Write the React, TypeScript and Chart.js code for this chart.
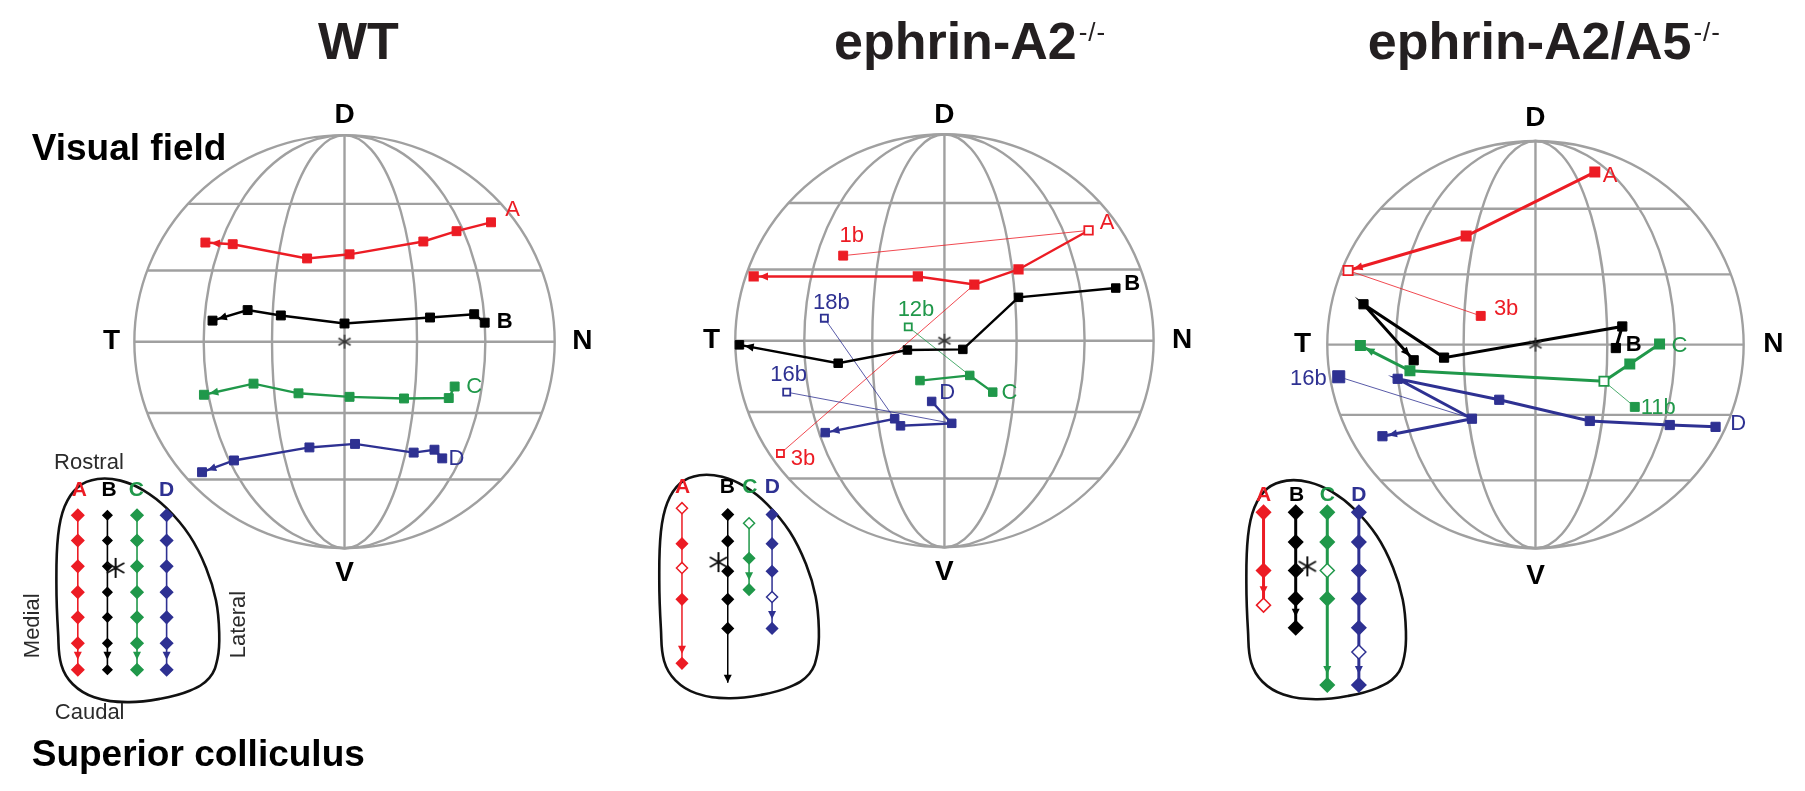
import React, { useEffect, useRef } from "react";
import { Chart, registerables } from "chart.js";

Chart.register(...registerables);

const W = 1805;
const H = 791;
const FONT = "'Liberation Sans', Arial, Helvetica, sans-serif";

const RED = "#ec1c24";
const BLACK = "#000000";
const GREEN = "#20984a";
const BLUE = "#2e3192";
const GRID = "#a0a0a0";
const DARK = "#231f20";
const COLOR: Record<string, string> = { A: RED, B: BLACK, C: GREEN, D: BLUE };

// ---------------- panel layout ----------------
const TITLES = ["WT", "ephrin-A2", "ephrin-A2/A5"];
const TITLE_SUP = ["", "-/-", "-/-"];
const TITLE_X = [351, 970, 1552];
const TITLE_BASELINE = 48;
const GLOBE_X = [337, 945, 1544];
const GLOBE_Y = [340, 339, 343];
const GLOBE_RX = [213, 212, 211];
const GLOBE_RY = [213, 213, 210];
const MERIDIANS = [0.345, 0.67];
const PARALLELS = [-0.667, -0.345, 0, 0.345, 0.667];
const POLE_TEXT = ["D", "V", "T", "N"];
const POLE_DX = [0, 0, -236, 241];
const POLE_DY = [-233, 239, 0, 0];

// ---------------- visual field traces ----------------
// [x, y] in globe radii (x: temporal - / nasal +, y: ventral - / dorsal +)
const WT_A = [[0.697, 0.578], [0.533, 0.535], [0.375, 0.485], [0.024, 0.423], [-0.178, 0.403], [-0.532, 0.472], [-0.662, 0.48]];
const WT_B = [[0.667, 0.092], [0.617, 0.133], [0.407, 0.117], [0, 0.088], [-0.303, 0.127], [-0.461, 0.153], [-0.628, 0.102]];
const WT_C = [[0.524, -0.217], [0.496, -0.273], [0.283, -0.275], [0.024, -0.267], [-0.219, -0.25], [-0.433, -0.203], [-0.669, -0.257]];
const WT_D = [[0.465, -0.565], [0.428, -0.523], [0.329, -0.537], [0.05, -0.495], [-0.167, -0.512], [-0.526, -0.575], [-0.678, -0.632]];

const A2_A = [[0.689, 0.534], [0.354, 0.345], [0.143, 0.272], [-0.127, 0.311], [-0.912, 0.311]];
const A2_B = [[0.819, 0.255], [0.354, 0.21], [0.088, -0.042], [-0.177, -0.045], [-0.508, -0.109], [-0.98, -0.02]];
const A2_C = [[0.231, -0.249], [0.121, -0.168], [-0.117, -0.193]];
const A2_D = [[-0.061, -0.294], [0.035, -0.4], [-0.21, -0.412], [-0.238, -0.378], [-0.57, -0.445]];

const A25_A = [[0.285, 0.847], [-0.333, 0.533], [-0.9, 0.364]];
const A25_B = [[0.386, -0.017], [0.417, 0.089], [-0.439, -0.064], [-0.826, 0.198], [-0.585, -0.077]];
const A25_C = [[0.596, 0.003], [0.453, -0.095], [0.329, -0.18], [-0.603, -0.129], [-0.841, -0.005]];
const A25_D = [[0.865, -0.404], [0.645, -0.395], [0.261, -0.375], [-0.174, -0.271], [-0.662, -0.168], [-0.305, -0.364], [-0.735, -0.45]];

// ectopic ("b") projections
const A2_1B = [-0.484, 0.412];
const A2_3B = [-0.784, -0.546];
const A2_12B = [-0.173, 0.067];
const A2_18B = [-0.574, 0.109];
const A2_16B = [-0.754, -0.249];
const A25_3B = [-0.263, 0.141];
const A25_11B = [0.477, -0.306];
const A25_16B = [-0.945, -0.158];

type VFSeries = { panel: number; key: string; pts: number[][]; open?: number[]; arrow?: boolean };
const VF_SERIES: VFSeries[] = [
  { panel: 0, key: "A", pts: WT_A, arrow: true },
  { panel: 0, key: "B", pts: WT_B, arrow: true },
  { panel: 0, key: "C", pts: WT_C, arrow: true },
  { panel: 0, key: "D", pts: WT_D, arrow: true },
  { panel: 1, key: "A", pts: A2_A, open: [0], arrow: true },
  { panel: 1, key: "B", pts: A2_B, arrow: true },
  { panel: 1, key: "C", pts: A2_C },
  { panel: 1, key: "D", pts: A2_D, arrow: true },
  { panel: 2, key: "A", pts: A25_A, open: [2], arrow: true },
  { panel: 2, key: "B", pts: A25_B, arrow: true },
  { panel: 2, key: "C", pts: A25_C, open: [2], arrow: true },
  { panel: 2, key: "D", pts: A25_D, arrow: true },
];

type Ectopic = { panel: number; key: string; from: number[]; to: number[]; open: boolean; big?: boolean };
const ECTOPIC: Ectopic[] = [
  { panel: 1, key: "A", from: A2_A[0], to: A2_1B, open: false },
  { panel: 1, key: "A", from: A2_A[2], to: A2_3B, open: true },
  { panel: 1, key: "C", from: A2_C[1], to: A2_12B, open: true },
  { panel: 1, key: "D", from: A2_D[3], to: A2_18B, open: true },
  { panel: 1, key: "D", from: A2_D[1], to: A2_16B, open: true },
  { panel: 2, key: "A", from: A25_A[2], to: A25_3B, open: false },
  { panel: 2, key: "C", from: A25_C[2], to: A25_11B, open: false },
  { panel: 2, key: "D", from: A25_D[5], to: A25_16B, open: false, big: true },
];

const VF_LABELS = [
  { panel: 0, key: "A", text: "A", at: [0.8, 0.64] },
  { panel: 0, key: "B", text: "B", at: [0.762, 0.097] },
  { panel: 0, key: "C", text: "C", at: [0.617, -0.22] },
  { panel: 0, key: "D", text: "D", at: [0.533, -0.567] },
  { panel: 1, key: "A", text: "A", at: [0.777, 0.571] },
  { panel: 1, key: "B", text: "B", at: [0.898, 0.277] },
  { panel: 1, key: "C", text: "C", at: [0.311, -0.252] },
  { panel: 1, key: "D", text: "D", at: [0.013, -0.252] },
  { panel: 1, key: "A", text: "1b", at: [-0.443, 0.508] },
  { panel: 1, key: "A", text: "3b", at: [-0.676, -0.571] },
  { panel: 1, key: "C", text: "12b", at: [-0.136, 0.148] },
  { panel: 1, key: "D", text: "18b", at: [-0.54, 0.185] },
  { panel: 1, key: "D", text: "16b", at: [-0.745, -0.168] },
  { panel: 2, key: "A", text: "A", at: [0.358, 0.828] },
  { panel: 2, key: "B", text: "B", at: [0.472, -0.003] },
  { panel: 2, key: "C", text: "C", at: [0.691, -0.009] },
  { panel: 2, key: "D", text: "D", at: [0.974, -0.392] },
  { panel: 2, key: "A", text: "3b", at: [-0.141, 0.175] },
  { panel: 2, key: "C", text: "11b", at: [0.59, -0.309] },
  { panel: 2, key: "D", text: "16b", at: [-1.091, -0.168] },
];

const VF_LW = [2.4, 2.4, 3];
const VF_PR = [6.3, 6, 6.5];

// ---------------- superior colliculus ----------------
// outline template (px from the outline's bounding-box top-left)
const BLOB = [
  [0, 108.3], [1.7, 158.3], [5, 191.6], [16.7, 211.6], [38.3, 225], [71.7, 230], [105, 226.6], [135, 218.3],
  [155, 205], [163.3, 185], [165, 158.3], [161.7, 125], [151.7, 91.6], [135, 58.3], [111.7, 30], [88.3, 11.6],
  [65, 1.6], [41.7, 0], [21.7, 8.3], [8.3, 28.3], [1.7, 58.3],
];
const SC_X0 = [45, 656, 1251];
const SC_Y0 = [481.7, 477.7, 483.3];
const SC_SX = [1, 0.98, 0.98];
const SC_SY = [1, 1, 0.98];
const SC_COL_X = [[21.7, 51.7, 81.7, 111.7], [23, 69.4, 91, 114.3], [17.4, 50, 82, 114]];
const SC_LETTER_X = [[23.3, 53.3, 81, 111.7], [23.6, 69, 91.8, 114.7], [17.4, 51, 82, 114]];
const SC_LETTER_Y = [11.6, 12.3, 15];
const SC_STAR = [[60, 91.6], [60, 89.6], [61.8, 88.4]];
const SC_R = [6, 5.5, 7];
const SC_LW = [1.6, 1.5, 3];

// rostro-caudal positions of the injection sites (px from outline top)
const SC_WT_A = [37.3, 63.3, 90, 116.6, 142.6, 169.3, 196.6];
const SC_WT_B = [37.3, 63.3, 90, 116.6, 142.6, 169.3, 196.6];
const SC_WT_C = [37.3, 63.3, 90, 116.6, 142.6, 169.3, 196.6];
const SC_WT_D = [37.3, 63.3, 90, 116.6, 142.6, 169.3, 196.6];
const SC_A2_A = [34, 70.6, 95.6, 128, 194];
const SC_A2_B = [40.6, 68, 99, 128, 158, 214];
const SC_A2_C = [49.6, 85.6, 118];
const SC_A2_D = [40.6, 70.6, 99, 125.6, 158];
const SC_A25_A = [32.7, 92.7, 128.4];
const SC_A25_B = [32.7, 63.4, 92.7, 121.7, 151.7];
const SC_A25_C = [32.7, 63.4, 92.7, 121.7, 210.7];
const SC_A25_D = [32.7, 63.4, 92.7, 121.7, 151.7, 176.7, 210.7];

type SCSeries = { panel: number; col: number; key: string; rows: number[]; open?: number[]; hideLast?: boolean };
const SC_SERIES: SCSeries[] = [
  { panel: 0, col: 0, key: "A", rows: SC_WT_A },
  { panel: 0, col: 1, key: "B", rows: SC_WT_B },
  { panel: 0, col: 2, key: "C", rows: SC_WT_C },
  { panel: 0, col: 3, key: "D", rows: SC_WT_D },
  { panel: 1, col: 0, key: "A", rows: SC_A2_A, open: [0, 2] },
  { panel: 1, col: 1, key: "B", rows: SC_A2_B, hideLast: true },
  { panel: 1, col: 2, key: "C", rows: SC_A2_C, open: [0] },
  { panel: 1, col: 3, key: "D", rows: SC_A2_D, open: [3] },
  { panel: 2, col: 0, key: "A", rows: SC_A25_A, open: [2] },
  { panel: 2, col: 1, key: "B", rows: SC_A25_B },
  { panel: 2, col: 2, key: "C", rows: SC_A25_C, open: [2] },
  { panel: 2, col: 3, key: "D", rows: SC_A25_D, open: [5] },
];

const SC_AXIS_TEXT = [
  { text: "Rostral", at: [33, -16.7], rot: 0 },
  { text: "Caudal", at: [33.7, 241.6], rot: 0 },
  { text: "Medial", at: [-23.3, 151.3], rot: -90 },
  { text: "Lateral", at: [185, 150], rot: -90 },
];

function makeAsterisk(size: number, lw: number, color: string) {
  const c = document.createElement("canvas");
  c.width = size;
  c.height = size;
  const g = c.getContext("2d")!;
  g.strokeStyle = color;
  g.lineWidth = lw;
  const r = size / 2 - 1;
  [90, 30, 150].forEach((a) => {
    const rad = (a * Math.PI) / 180;
    g.beginPath();
    g.moveTo(size / 2 + r * Math.cos(rad), size / 2 - r * Math.sin(rad));
    g.lineTo(size / 2 - r * Math.cos(rad), size / 2 + r * Math.sin(rad));
    g.stroke();
  });
  return c;
}

const globePlugin = {
  id: "globeGrid",
  beforeDatasetsDraw(chart: any) {
    const ctx = chart.ctx;
    const xs = chart.scales.x;
    const ys = chart.scales.y;
    ctx.save();
    ctx.strokeStyle = GRID;
    ctx.lineWidth = 2.4;
    GLOBE_X.forEach((gx, p) => {
      const cx = xs.getPixelForValue(gx);
      const cy = ys.getPixelForValue(GLOBE_Y[p]);
      const rx = xs.getPixelForValue(gx + GLOBE_RX[p]) - cx;
      const ry = ys.getPixelForValue(GLOBE_Y[p] + GLOBE_RY[p]) - cy;
      ctx.beginPath();
      ctx.ellipse(cx, cy, rx, ry, 0, 0, Math.PI * 2);
      ctx.stroke();
      MERIDIANS.forEach((k) => {
        ctx.beginPath();
        ctx.ellipse(cx, cy, rx * k, ry, 0, 0, Math.PI * 2);
        ctx.stroke();
      });
      ctx.beginPath();
      ctx.moveTo(cx, cy - ry);
      ctx.lineTo(cx, cy + ry);
      ctx.stroke();
      PARALLELS.forEach((k) => {
        const half = Math.sqrt(1 - k * k) * rx;
        ctx.beginPath();
        ctx.moveTo(cx - half, cy - k * ry);
        ctx.lineTo(cx + half, cy - k * ry);
        ctx.stroke();
      });
    });
    ctx.restore();
  },
};

const overlayPlugin = {
  id: "overlay",
  afterDatasetsDraw(chart: any) {
    const ctx = chart.ctx;
    const xs = chart.scales.x;
    const ys = chart.scales.y;
    const X = (v: number) => xs.getPixelForValue(v);
    const Y = (v: number) => ys.getPixelForValue(v);
    ctx.save();

    // arrowheads
    chart.data.datasets.forEach((ds: any, i: number) => {
      const a = ds.arrowHead;
      if (!a) return;
      const pts = chart.getDatasetMeta(i).data;
      if (pts.length < 2) return;
      const p1 = pts[pts.length - 2];
      const p2 = pts[pts.length - 1];
      const dx = p2.x - p1.x;
      const dy = p2.y - p1.y;
      const L = Math.hypot(dx, dy) || 1;
      const ux = dx / L;
      const uy = dy / L;
      const tx = p2.x - ux * a.gap;
      const ty = p2.y - uy * a.gap;
      const bx = tx - ux * a.len;
      const by = ty - uy * a.len;
      ctx.beginPath();
      ctx.moveTo(tx, ty);
      ctx.lineTo(bx - uy * a.half, by + ux * a.half);
      ctx.lineTo(bx + uy * a.half, by - ux * a.half);
      ctx.closePath();
      ctx.fillStyle = ds.borderColor;
      ctx.fill();
    });

    // titles
    ctx.textAlign = "left";
    ctx.textBaseline = "alphabetic";
    ctx.fillStyle = DARK;
    const supGap = 1;
    TITLES.forEach((t, p) => {
      ctx.font = `bold 52px ${FONT}`;
      const w1 = ctx.measureText(t).width;
      ctx.font = `26px ${FONT}`;
      const chars = TITLE_SUP[p].split("");
      const cw = chars.map((c) => ctx.measureText(c).width);
      const w2 = chars.length ? cw.reduce((s, v) => s + v, 0) + supGap * chars.length : 0;
      const x0 = X(TITLE_X[p]) - (w1 + w2) / 2;
      ctx.font = `bold 52px ${FONT}`;
      ctx.fillText(t, x0, Y(TITLE_BASELINE));
      ctx.font = `26px ${FONT}`;
      let cx = x0 + w1 + supGap + 1;
      chars.forEach((c, k) => {
        ctx.fillText(c, cx, Y(TITLE_BASELINE - 18));
        cx += cw[k] + supGap;
      });
    });

    // side captions
    ctx.fillStyle = BLACK;
    ctx.font = `bold 37px ${FONT}`;
    ctx.fillText("Visual field", X(20), Y(153));
    ctx.fillText("Superior colliculus", X(20), Y(778));

    // pole labels
    ctx.textAlign = "center";
    ctx.textBaseline = "middle";
    ctx.font = `bold 28px ${FONT}`;
    GLOBE_X.forEach((gx, p) => {
      POLE_TEXT.forEach((t, k) => {
        ctx.fillText(t, X(gx + POLE_DX[k]), Y(GLOBE_Y[p] + POLE_DY[k]));
      });
    });

    // visual field labels
    VF_LABELS.forEach((l) => {
      ctx.fillStyle = COLOR[l.key];
      ctx.font = `${l.key === "B" && l.text === "B" ? "bold " : ""}22px ${FONT}`;
      ctx.fillText(
        l.text,
        X(GLOBE_X[l.panel] + l.at[0] * GLOBE_RX[l.panel]),
        Y(GLOBE_Y[l.panel] - l.at[1] * GLOBE_RY[l.panel])
      );
    });

    // SC column letters
    SC_LETTER_X.forEach((cols, p) => {
      ["A", "B", "C", "D"].forEach((k, c) => {
        ctx.fillStyle = COLOR[k];
        ctx.font = `bold 21px ${FONT}`;
        ctx.fillText(k, X(SC_X0[p] + cols[c]), Y(SC_Y0[p] + SC_LETTER_Y[p]));
      });
    });

    // SC orientation words (WT only)
    ctx.fillStyle = "#2b2b2b";
    ctx.font = `22px ${FONT}`;
    SC_AXIS_TEXT.forEach((t) => {
      const x = X(SC_X0[0] + t.at[0]);
      const y = Y(SC_Y0[0] + t.at[1]);
      ctx.save();
      ctx.translate(x, y);
      ctx.rotate((t.rot * Math.PI) / 180);
      ctx.fillText(t.text, 0, 0);
      ctx.restore();
    });

    ctx.restore();
  },
};

export default function App() {
  const ref = useRef<HTMLCanvasElement>(null);

  useEffect(() => {
    const canvas = ref.current;
    if (!canvas) return;
    const gpt = (p: number, v: number[]) => ({ x: GLOBE_X[p] + v[0] * GLOBE_RX[p], y: GLOBE_Y[p] - v[1] * GLOBE_RY[p] });
    const starSmall = makeAsterisk(16, 1.5, "#333333");
    const starBig = makeAsterisk(22, 2, "#111111");

    const bottomToTop: any[] = [];

    // SC outlines
    SC_X0.forEach((x0, p) => {
      const pts = BLOB.map((b) => ({ x: x0 + b[0] * SC_SX[p], y: SC_Y0[p] + b[1] * SC_SY[p] }));
      const n = pts.length;
      const data = [...pts, pts[0], pts[1], pts[2]];
      bottomToTop.push({
        data,
        showLine: true,
        borderColor: "#111111",
        borderWidth: 2.6,
        pointRadius: 0,
        tension: 0.4,
        segment: {
          borderColor: (c: any) => (c.p0DataIndex === 0 || c.p0DataIndex === n + 1 ? "rgba(0,0,0,0)" : "#111111"),
        },
      });
    });

    // SC injection columns
    SC_SERIES.forEach((s) => {
      const color = COLOR[s.key];
      const x = SC_X0[s.panel] + SC_COL_X[s.panel][s.col];
      const r = SC_R[s.panel] * (s.panel === 0 && s.key === "B" ? 0.75 : 1);
      bottomToTop.push({
        data: s.rows.map((v) => ({ x, y: SC_Y0[s.panel] + v })),
        showLine: true,
        borderColor: color,
        borderWidth: SC_LW[s.panel],
        pointStyle: "rectRot",
        pointRadius: s.rows.map((_, i) => (s.hideLast && i === s.rows.length - 1 ? 0 : r)),
        pointBackgroundColor: s.rows.map((_, i) => (s.open && s.open.includes(i) ? "#ffffff" : color)),
        pointBorderColor: color,
        pointBorderWidth: 1.5,
        arrowHead: { len: 8, half: 4, gap: s.hideLast ? 0 : SC_R[s.panel] + 4 },
      });
    });

    // ectopic links
    ECTOPIC.forEach((e) => {
      const color = COLOR[e.key];
      bottomToTop.push({
        data: [gpt(e.panel, e.from), gpt(e.panel, e.to)],
        showLine: true,
        borderColor: color,
        borderWidth: 0.8,
        pointStyle: "rect",
        pointRadius: [0, e.big ? 8.5 : e.open ? 5 : 6.3],
        pointBackgroundColor: e.open ? "#ffffff" : color,
        pointBorderColor: color,
        pointBorderWidth: e.open ? 1.8 : 1,
      });
    });

    // visual field traces
    VF_SERIES.forEach((s) => {
      const color = COLOR[s.key];
      const r = VF_PR[s.panel];
      bottomToTop.push({
        data: s.pts.map((v) => gpt(s.panel, v)),
        showLine: true,
        borderColor: color,
        borderWidth: VF_LW[s.panel],
        pointStyle: "rect",
        pointRadius: r,
        pointBackgroundColor: s.pts.map((_, i) => (s.open && s.open.includes(i) ? "#ffffff" : color)),
        pointBorderColor: color,
        pointBorderWidth: s.open ? 1.8 : 1,
        arrowHead: s.arrow ? { len: 9, half: 4, gap: r * 0.72 + 1 } : null,
      });
    });

    // asterisks (globe centres, SC)
    bottomToTop.push({
      data: GLOBE_X.map((gx, p) => ({ x: gx, y: GLOBE_Y[p] })),
      showLine: false,
      pointStyle: starSmall,
      pointRadius: 8,
    });
    bottomToTop.push({
      data: SC_STAR.map((s, p) => ({ x: SC_X0[p] + s[0], y: SC_Y0[p] + s[1] })),
      showLine: false,
      pointStyle: starBig,
      pointRadius: 11,
    });

    const chart = new Chart(canvas, {
      type: "scatter",
      data: { datasets: bottomToTop.reverse() },
      options: {
        animation: false,
        responsive: false,
        maintainAspectRatio: false,
        devicePixelRatio: 1,
        events: [],
        layout: { padding: 0 },
        plugins: { legend: { display: false }, tooltip: { enabled: false } },
        scales: {
          x: { type: "linear", min: 0, max: W, display: false },
          y: { type: "linear", min: 0, max: H, reverse: true, display: false },
        },
      },
      plugins: [globePlugin, overlayPlugin],
    } as any);

    return () => chart.destroy();
  }, []);

  return (
    <div style={{ position: "fixed", left: 0, top: 0, width: W, height: H, background: "#ffffff" }}>
      <canvas ref={ref} width={W} height={H} style={{ display: "block", width: W, height: H }} />
    </div>
  );
}
